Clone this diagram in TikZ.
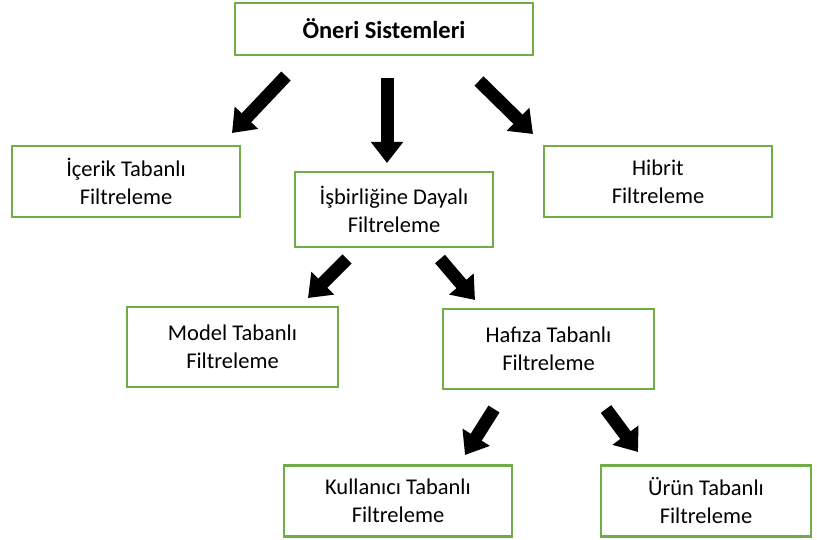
\documentclass[tikz,border=0pt]{standalone}
\usepackage{fontspec}
\setmainfont{Carlito}
\usetikzlibrary{arrows.meta}
\definecolor{boxgreen}{HTML}{70AD47}
\begin{document}
\begin{tikzpicture}[x=1pt,y=-1pt,
  box/.style={draw=boxgreen,line width=2.6pt,inner sep=0pt,align=center,
    font=\fontsize{22.5}{28}\selectfont},
  bigarrow/.style={line width=13pt,-{Triangle[length=21pt,width=31pt]}}]
\useasboundingbox (0,0) rectangle (817,540);
% boxes
\node[box,minimum width=298pt,minimum height=52pt,font=\fontsize{24.5}{28}\selectfont\bfseries] (root) at (384,29) {Öneri Sistemleri};
\node[box,minimum width=228pt,minimum height=71pt] (icerik) at (126,181.5) {İçerik Tabanlı\\Filtreleme};
\node[box,minimum width=198pt,minimum height=75pt] (isbir) at (394,209.5) {İşbirliğine Dayalı\\Filtreleme};
\node[box,minimum width=228pt,minimum height=71pt] (hibrit) at (658,181.5) {Hibrit\\Filtreleme};
\node[box,minimum width=211pt,minimum height=80pt] (model) at (232.5,347) {Model Tabanlı\\Filtreleme};
\node[box,minimum width=211pt,minimum height=80pt] (hafiza) at (548.5,349) {Hafıza Tabanlı\\Filtreleme};
\node[box,minimum width=228pt,minimum height=71pt] (kullanici) at (398,501) {Kullanıcı Tabanlı\\Filtreleme};
\node[box,minimum width=210pt,minimum height=71pt] (urun) at (706,501) {Ürün Tabanlı\\Filtreleme};
% arrow end points
\coordinate (a1s) at (286,76); \coordinate (a1e) at (232,133);
\coordinate (a2s) at (387,78); \coordinate (a2e) at (387,163);
\coordinate (a3s) at (479,81); \coordinate (a3e) at (533,134);
\coordinate (b1s) at (347,259); \coordinate (b1e) at (308,298);
\coordinate (b2s) at (440,259); \coordinate (b2e) at (475,300);
\coordinate (c1s) at (494,409); \coordinate (c1e) at (465,455);
\coordinate (c2s) at (606,409); \coordinate (c2e) at (638,452);
\foreach \p in {a1,a2,a3,b1,b2,c1,c2}
  \draw[bigarrow] (\p s) -- (\p e);
\end{tikzpicture}
\end{document}
